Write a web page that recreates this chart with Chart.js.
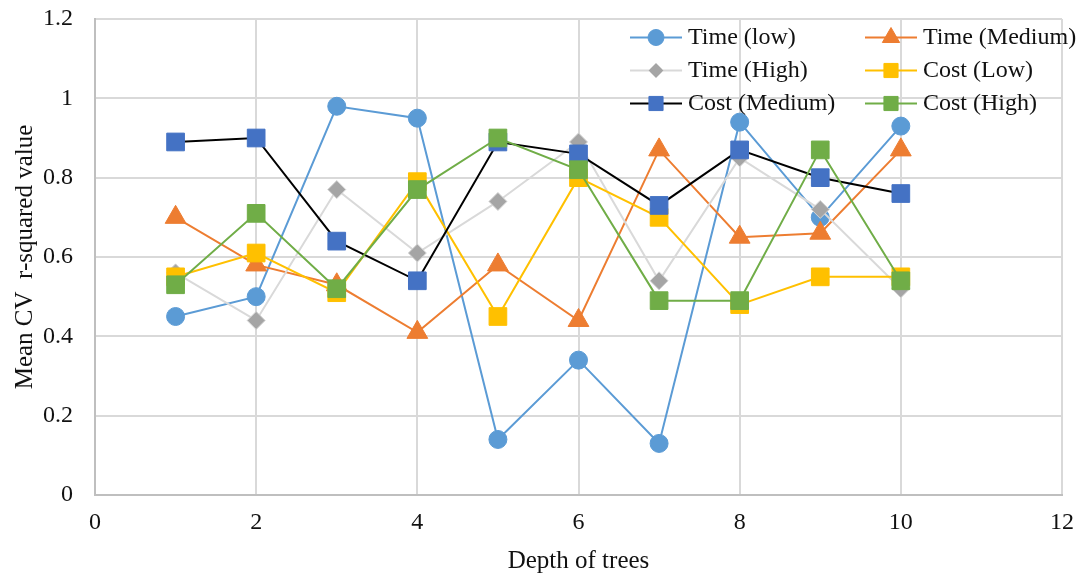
<!DOCTYPE html>
<html>
<head>
<meta charset="utf-8">
<script src="https://cdn.jsdelivr.net/npm/chart.js@4/dist/chart.umd.min.js"></script>
<style>
  html, body { margin: 0; padding: 0; background: #fff; }
  #wrap { width: 1081px; height: 576px; }
</style>
</head>
<body>
<div id="wrap"><canvas id="c" width="1081" height="576"></canvas></div>
<script>
// Tree depth on the x axis
const depth = [1, 2, 3, 4, 5, 6, 7, 8, 9, 10];

// Mean cross-validated r-squared per series
const timeLow    = [0.45, 0.50, 0.98, 0.95, 0.14, 0.34, 0.13, 0.94, 0.70, 0.93];
const timeMedium = [0.70, 0.58, 0.53, 0.41, 0.58, 0.44, 0.87, 0.65, 0.66, 0.87];
const timeHigh   = [0.56, 0.44, 0.77, 0.61, 0.74, 0.89, 0.54, 0.85, 0.72, 0.52];
const costLow    = [0.55, 0.61, 0.51, 0.79, 0.45, 0.80, 0.70, 0.48, 0.55, 0.55];
const costMedium = [0.89, 0.90, 0.64, 0.54, 0.89, 0.86, 0.73, 0.87, 0.80, 0.76];
const costHigh   = [0.53, 0.71, 0.52, 0.77, 0.90, 0.82, 0.49, 0.49, 0.87, 0.54];

const seriesNames = ['Time (low)', 'Time (Medium)', 'Time (High)', 'Cost (Low)', 'Cost (Medium)', 'Cost (High)'];
const xTicks = [0, 2, 4, 6, 8, 10, 12];
const yTicks = [0, 0.2, 0.4, 0.6, 0.8, 1, 1.2];

const SERIF = "'Liberation Serif', 'Times New Roman', serif";

const styles = [
  { line: '#5B9BD5', fill: '#5B9BD5', edge: '#5B9BD5', shape: 'circle',   r: 9,    lr: 8 },
  { line: '#ED7D31', fill: '#ED7D31', edge: '#ED7D31', shape: 'triangle', r: 12,   lr: 10 },
  { line: '#D9D9D9', fill: '#A5A5A5', edge: '#D4D4D4', shape: 'rectRot',  r: 9,    lr: 7.5 },
  { line: '#FFC000', fill: '#FFC000', edge: '#FFC000', shape: 'rect',     r: 12.5, lr: 10 },
  { line: '#000000', fill: '#4472C4', edge: '#4472C4', shape: 'rect',     r: 12.5, lr: 10 },
  { line: '#70AD47', fill: '#70AD47', edge: '#70AD47', shape: 'rect',     r: 12.5, lr: 10 }
];

const values = [timeLow, timeMedium, timeHigh, costLow, costMedium, costHigh];

const datasets = values.map((vals, i) => ({
  label: seriesNames[i],
  data: depth.map((d, k) => ({ x: d, y: vals[k] })),
  borderColor: styles[i].line,
  backgroundColor: styles[i].fill,
  borderWidth: 2,
  tension: 0,
  pointStyle: styles[i].shape,
  pointRadius: styles[i].r,
  pointHoverRadius: styles[i].r,
  pointBackgroundColor: styles[i].fill,
  pointBorderColor: styles[i].edge,
  pointBorderWidth: 1,
  // later series are painted over earlier ones
  order: values.length - i
}));

// small marker painter for the legend
function marker(ctx, shape, x, y, r, fill, edge) {
  ctx.save();
  ctx.fillStyle = fill;
  ctx.strokeStyle = edge;
  ctx.lineWidth = 1;
  ctx.beginPath();
  if (shape === 'circle') {
    ctx.arc(x, y, r, 0, Math.PI * 2);
  } else if (shape === 'triangle') {
    const h = r * Math.sqrt(3) / 2;
    ctx.moveTo(x, y - r);
    ctx.lineTo(x + h, y + r / 2);
    ctx.lineTo(x - h, y + r / 2);
    ctx.closePath();
  } else if (shape === 'rectRot') {
    ctx.moveTo(x - r, y);
    ctx.lineTo(x, y - r);
    ctx.lineTo(x + r, y);
    ctx.lineTo(x, y + r);
    ctx.closePath();
  } else {
    const s = r * Math.SQRT1_2;
    ctx.rect(x - s, y - s, 2 * s, 2 * s);
  }
  ctx.fill();
  ctx.stroke();
  ctx.restore();
}

// two-column legend in the upper right of the plot area
const legendPlugin = {
  id: 'cornerLegend',
  afterDraw(chart) {
    const ctx = chart.ctx;
    const area = chart.chartArea;
    const cols = [area.right - 432, area.right - 197];
    const rows = [area.top + 18.5, area.top + 51.5, area.top + 84.5];
    ctx.save();
    ctx.font = '24px ' + SERIF;
    ctx.textBaseline = 'middle';
    ctx.textAlign = 'left';
    seriesNames.forEach((name, i) => {
      const x0 = cols[i % 2];
      const y = rows[Math.floor(i / 2)];
      const st = styles[i];
      ctx.strokeStyle = st.line;
      ctx.lineWidth = 2;
      ctx.beginPath();
      ctx.moveTo(x0, y);
      ctx.lineTo(x0 + 52, y);
      ctx.stroke();
      marker(ctx, st.shape, x0 + 26, y, st.lr, st.fill, st.edge);
      ctx.fillStyle = '#111';
      ctx.fillText(name, x0 + 58, y);
    });
    ctx.restore();
  }
};

new Chart(document.getElementById('c'), {
  type: 'line',
  data: { datasets },
  options: {
    responsive: false,
    animation: false,
    layout: { padding: { top: 19, right: 19, left: 0, bottom: 0 } },
    plugins: {
      legend: { display: false },
      tooltip: { enabled: false }
    },
    events: [],
    scales: {
      x: {
        type: 'linear',
        min: 0,
        max: 12,
        afterFit(scale) {
          scale.height = 81;
          scale.paddingLeft = 0;
          scale.paddingRight = 0;
        },
        afterBuildTicks(scale) { scale.ticks = xTicks.map(v => ({ value: v })); },
        ticks: {
          color: '#111',
          font: { family: SERIF, size: 24 },
          padding: 13,
          maxRotation: 0,
          callback: v => String(v)
        },
        grid: { color: '#D9D9D9', lineWidth: 2, drawTicks: false },
        border: { display: true, color: '#BFBFBF', width: 2 },
        title: {
          display: true,
          text: 'Depth of trees',
          color: '#111',
          font: { family: SERIF, size: 25 },
          padding: { top: 0, bottom: 0 }
        }
      },
      y: {
        min: 0,
        max: 1.2,
        afterFit(scale) {
          scale.width = 95;
          scale.paddingTop = 0;
          scale.paddingBottom = 0;
        },
        afterBuildTicks(scale) { scale.ticks = yTicks.map(v => ({ value: v })); },
        ticks: {
          color: '#111',
          font: { family: SERIF, size: 24 },
          padding: 22,
          callback: v => String(Math.round(v * 10) / 10)
        },
        grid: { color: '#D9D9D9', lineWidth: 2, drawTicks: false },
        border: { display: true, color: '#BFBFBF', width: 2 },
        title: {
          display: true,
          text: 'Mean CV  r-squared value',
          color: '#111',
          font: { family: SERIF, size: 25 },
          padding: { top: 10, bottom: 0 }
        }
      }
    }
  },
  plugins: [legendPlugin]
});
</script>
</body>
</html>
